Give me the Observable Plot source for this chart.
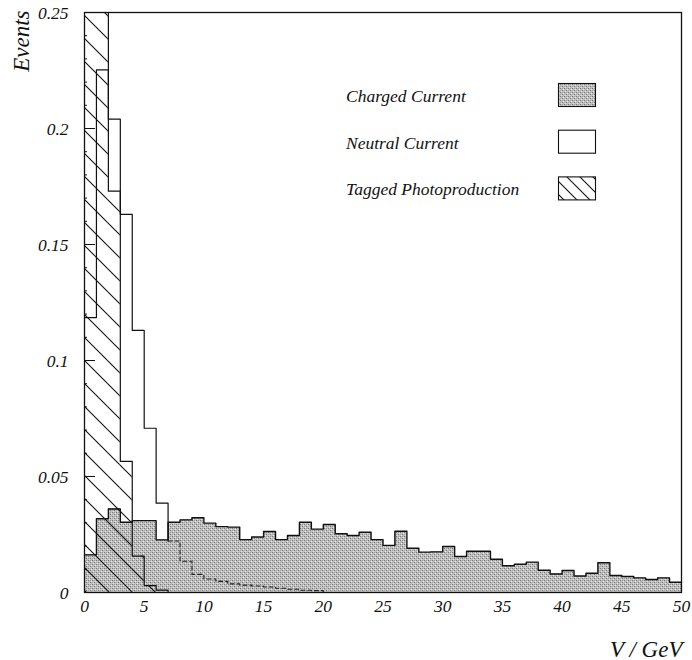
<!DOCTYPE html>
<html>
<head>
<meta charset="utf-8">
<script src="https://cdn.jsdelivr.net/npm/d3@7"></script>
<script src="https://cdn.jsdelivr.net/npm/@observablehq/plot@0.6"></script>
<style>
  body { margin: 0; background: #fff; }
  #chart { width: 692px; height: 660px; }
</style>
</head>
<body>
<div id="chart"></div>
<script>
// 1 GeV bins from 0 to 50 GeV
const binEdges = d3.range(0, 51);

// Charged Current (stippled grey histogram)
const chargedCurrent = [
  0.0162, 0.0318, 0.0360, 0.0303, 0.0310, 0.0310, 0.0227, 0.0303, 0.0313, 0.0322,
  0.0299, 0.0284, 0.0282, 0.0228, 0.0239, 0.0263, 0.0228, 0.0246, 0.0303, 0.0273,
  0.0293, 0.0253, 0.0246, 0.0260, 0.0228, 0.0203, 0.0264, 0.0191, 0.0174, 0.0175,
  0.0198, 0.0155, 0.0178, 0.0178, 0.0143, 0.0115, 0.0122, 0.0131, 0.0096, 0.0080,
  0.0095, 0.0071, 0.0083, 0.0128, 0.0073, 0.0069, 0.0063, 0.0056, 0.0063, 0.0044
];

// Neutral Current (open histogram)
const neutralCurrent = [
  0.1185, 0.2253, 0.2040, 0.1630, 0.1130, 0.0708, 0.0385, 0.0222, 0.0135, 0.0078,
  0.0058, 0.0048, 0.0037, 0.0032, 0.0028, 0.0024, 0.0018, 0.0014, 0.0010, 0.0008,
  0, 0, 0, 0, 0, 0, 0, 0, 0, 0,
  0, 0, 0, 0, 0, 0, 0, 0, 0, 0,
  0, 0, 0, 0, 0, 0, 0, 0, 0, 0
];

// Tagged Photoproduction (hatched histogram); first two bins run off the top
const photoproduction = [
  0.3100, 0.2700, 0.1730, 0.0565, 0.0157, 0.0030, 0.0010, 0, 0, 0,
  0, 0, 0, 0, 0, 0, 0, 0, 0, 0,
  0, 0, 0, 0, 0, 0, 0, 0, 0, 0,
  0, 0, 0, 0, 0, 0, 0, 0, 0, 0,
  0, 0, 0, 0, 0, 0, 0, 0, 0, 0
];

const legendLabels = ["Charged Current", "Neutral Current", "Tagged Photoproduction"];
const xTicks = [0, 5, 10, 15, 20, 25, 30, 35, 40, 45, 50];
const xTickLabels = ["0", "5", "10", "15", "20", "25", "30", "35", "40", "45", "50"];
const yTicks = [0, 0.05, 0.1, 0.15, 0.2, 0.25];
const yTickLabels = ["0", "0.05", "0.1", "0.15", "0.2", "0.25"];
const yMinorTicks = [0.01, 0.02, 0.03, 0.04, 0.06, 0.07, 0.08, 0.09, 0.11, 0.12, 0.13, 0.14,
                     0.16, 0.17, 0.18, 0.19, 0.21, 0.22, 0.23, 0.24];
const xLabel = "V / GeV";
const yLabel = "Events";

// ---- layout ----
const W = 692, H = 660;
const M = { left: 84, right: 11, top: 12, bottom: 68 };
const frameW = W - M.left - M.right;
const serif = "'Liberation Serif', 'Times New Roman', serif";

// bars for fills, step points for outlines
const bars = (vals) => vals.map((v, i) => ({ x1: binEdges[i], x2: binEdges[i + 1], y: v }));
const steps = (vals, from = 0, to = vals.length) => {
  const pts = [];
  for (let i = from; i < to; i++) pts.push({ x: binEdges[i], y: vals[i] });
  pts.push({ x: binEdges[to], y: vals[to - 1] });
  return pts;
};
// Neutral current: solid where it rises above the CC band, dashed beneath it
const ncSplit = 7;
const ncSolid = steps(neutralCurrent, 0, ncSplit).slice(0, -1).concat([{ x: binEdges[ncSplit], y: neutralCurrent[ncSplit] }]);
const ncDashed = steps(neutralCurrent, ncSplit, neutralCurrent.length);

const ink = "#111";

const plot = Plot.plot({
  width: W, height: H,
  marginLeft: M.left, marginRight: M.right, marginTop: M.top, marginBottom: M.bottom,
  x: { domain: [0, 50] },
  y: { domain: [0, 0.25] },
  style: { fontFamily: serif, fontStyle: "italic", fontSize: "17.5px", color: ink, background: "#fff" },
  marks: [
    Plot.rectY(bars(chargedCurrent), { x1: "x1", x2: "x2", y: "y", fill: "url(#stipple)", shapeRendering: "crispEdges" }),
    Plot.rectY(bars(photoproduction), { x1: "x1", x2: "x2", y: "y", fill: "url(#hatch)", clip: true }),
    Plot.line(ncDashed, { x: "x", y: "y", curve: "step-after", stroke: "#222", strokeWidth: 1.1, strokeDasharray: "4,3" }),
    Plot.line(steps(chargedCurrent), { x: "x", y: "y", curve: "step-after", stroke: ink, strokeWidth: 1.4 }),
    Plot.line(ncSolid, { x: "x", y: "y", curve: "step-after", stroke: ink, strokeWidth: 1.2 }),
    Plot.line(steps(photoproduction), { x: "x", y: "y", curve: "step-after", stroke: ink, strokeWidth: 1.2, clip: true }),
    Plot.frame({ stroke: ink, strokeWidth: 1.3 }),
    Plot.tickY(yMinorTicks, { y: d => d, insetRight: frameW - 3, stroke: ink }),
    Plot.tickY(yTicks, { y: d => d, insetRight: frameW - 11, stroke: ink }),
    Plot.axisY({ ticks: yTicks, tickFormat: d => yTickLabels[yTicks.indexOf(d)], tickSize: 0, tickPadding: 16, label: null, dy: 1 }),
    Plot.axisX({ ticks: xTicks, tickFormat: d => xTickLabels[xTicks.indexOf(d)], tickSize: 0, tickPadding: 7, label: null }),
    Plot.text([yLabel], { frameAnchor: "top-left", text: d => d, rotate: -90, textAnchor: "end", dx: -72, dy: -2, fontSize: 23 }),
    Plot.text([xLabel], { frameAnchor: "bottom-right", text: d => d, textAnchor: "end", dx: 1, dy: 64, fontSize: 23 })
  ]
});

// fill patterns: stippled grey and diagonal hatching
const svg = d3.select(plot);
const defs = svg.insert("defs", ":first-child");
const st = defs.append("pattern").attr("id", "stipple").attr("patternUnits", "userSpaceOnUse")
  .attr("width", 4).attr("height", 4);
st.append("rect").attr("width", 4).attr("height", 4).attr("fill", "#c0c0c0");
[[0, 0, "#777"], [2, 2, "#777"], [1, 3, "#e6e6e6"], [3, 1, "#e6e6e6"], [2, 0, "#9c9c9c"], [0, 2, "#a8a8a8"]]
  .forEach(([x, y, c]) => st.append("rect").attr("x", x).attr("y", y).attr("width", 1).attr("height", 1).attr("fill", c));

// "\" hatching: one diagonal per square tile, s = vertical spacing in px
function hatchPattern(id, s) {
  const p = defs.append("pattern").attr("id", id).attr("patternUnits", "userSpaceOnUse")
    .attr("width", s).attr("height", s);
  p.append("path")
    .attr("d", `M-2,-2L${s + 2},${s + 2}M${s - 2},-2L${s + 2},2M-2,${s - 2}L2,${s + 2}`)
    .attr("stroke", ink).attr("stroke-width", 1.1).attr("fill", "none");
}
hatchPattern("hatch", 23);
hatchPattern("hatchKey", 13);

// legend
const legendFills = ["url(#stipple)", "#fff", "url(#hatchKey)"];
const lg = svg.append("g").attr("font-family", serif).attr("font-style", "italic")
  .attr("font-size", 17.5).attr("text-anchor", "start");
legendLabels.forEach((label, i) => {
  const y0 = 83 + i * 46.7;
  lg.append("text").attr("x", 346).attr("y", y0 + 19).attr("fill", ink).text(label);
  lg.append("rect").attr("x", 558.5).attr("y", y0 + 0.5).attr("width", 37).attr("height", 23)
    .attr("fill", legendFills[i]).attr("stroke", ink).attr("stroke-width", 1.1);
});

document.getElementById("chart").appendChild(plot);
</script>
</body>
</html>
